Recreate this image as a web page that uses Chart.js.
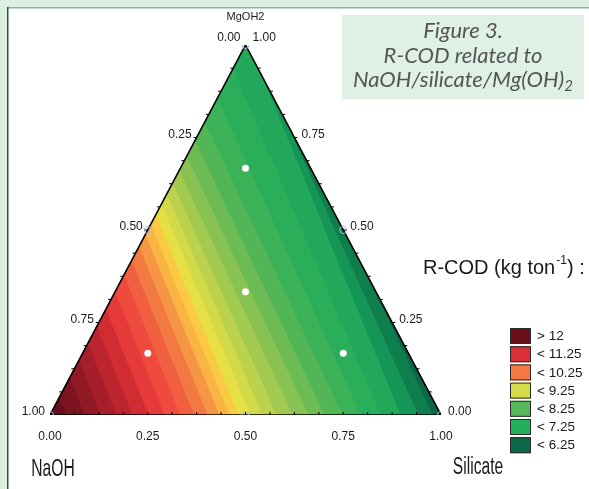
<!DOCTYPE html>
<html><head><meta charset="utf-8">
<script src="https://cdn.jsdelivr.net/npm/chart.js@4/dist/chart.umd.min.js"></script>
<style>html,body{margin:0;padding:0;background:#fff;overflow:hidden}#wrap{width:589px;height:489px;position:relative}</style>
</head><body><div id="wrap"><canvas id="c" width="589" height="489"></canvas></div>
<script>
// ---------- DATA ----------
// contour band colours, from the NaOH corner (highest R-COD) to the Silicate corner (lowest)
const bandColors = ['#6a0e1b','#7c131f','#901924','#a61e29','#bc242e','#d22c33','#e63a3a','#ee4a3e','#f06040','#f27a42','#f59644','#f9b444','#fcca42','#e6e044','#d2da48','#bcd24c','#a2ca50','#88c252','#6cbb54','#52b556','#3cb258','#2aae5a','#22a85a','#159656','#0e7e4c','#0a6846'];
// each contour line meets the bottom edge at this Silicate fraction ...
const contourBottomSil = [0.041,0.087,0.128,0.169,0.210,0.251,0.292,0.332,0.368,0.402,0.432,0.458,0.481,0.512,0.542,0.578,0.619,0.660,0.701,0.747,0.793,0.844,0.895,0.941,0.977];
// ... and the other edge at this path position (0..1 left edge NaOH corner -> MgOH2 corner, 1..2 right edge MgOH2 corner -> Silicate corner)
const contourEdgePos = [0.047,0.099,0.146,0.192,0.239,0.285,0.332,0.378,0.416,0.454,0.486,0.514,0.540,0.568,0.596,0.626,0.660,0.698,0.740,0.790,0.855,0.935,1.08,1.19,1.64];
// design points (white dots)
const designNaOH = [1/6, 1/3, 2/3, 1/6];
const designSil  = [1/6, 1/3, 1/6, 2/3];
const designMg   = [2/3, 1/3, 1/6, 1/6];
// reference points (blue rings): vertices and edge mid-points
const refNaOH = [1, 0, 0, 0.5, 0, 0.5];
const refSil  = [0, 1, 0, 0.5, 0.5, 0];
const refMg   = [0, 0, 1, 0, 0.5, 0.5];
// axis ticks
const tickValues = [0, 0.25, 0.5, 0.75, 1];
const tickLabels = ['0.00','0.25','0.50','0.75','1.00'];
const minorTickValues = [0.0625,0.125,0.1875,0.25,0.3125,0.375,0.4375,0.5,0.5625,0.625,0.6875,0.75,0.8125,0.875,0.9375];
// legend
const legendTitle = 'R-COD (kg ton';
const legendLabels = ['> 12','< 11.25','< 10.25','< 9.25','< 8.25','< 7.25','< 6.25'];
const legendColors = ['#6b1019','#d82f38','#f27a42','#d4dc48','#58b95a','#22b05c','#0b6848'];
const titleLines = ['Figure 3.', 'R-COD related to', 'NaOH/silicate/Mg(OH)'];

// ---------- helpers ----------
const tern = (naoh, sil, mg) => ({x: sil + mg / 2, y: mg});
function edgePoint(p) {
  if (p <= 1) return {x: 0.5 * p, y: p};
  const q = p - 1;
  return {x: 0.5 + 0.5 * q, y: 1 - q};
}
const datasets = [];
datasets.push({
  data: designNaOH.map((a, i) => tern(a, designSil[i], designMg[i])),
  pointRadius: 3.5, pointBackgroundColor: '#ffffff', pointBorderColor: '#ffffff', pointBorderWidth: 0, showLine: false
});
datasets.push({
  data: refNaOH.map((a, i) => tern(a, refSil[i], refMg[i])),
  pointRadius: 3.5, pointBackgroundColor: 'rgba(0,0,0,0)', pointBorderColor: '#a9b7e6', pointBorderWidth: 1, showLine: false
});
datasets.push({
  data: [tern(1,0,0), tern(0,1,0), tern(0,0,1), tern(1,0,0)],
  showLine: true, borderColor: '#000', borderWidth: 1.6, pointRadius: 0, fill: false
});
const bandCount = bandColors.length;
for (let i = 0; i < bandCount; i++) {
  const bL = i === 0 ? 0 : contourBottomSil[i - 1];
  const pL = i === 0 ? 0 : contourEdgePos[i - 1];
  const bU = i === bandCount - 1 ? 1 : contourBottomSil[i];
  const pU = i === bandCount - 1 ? 2 : contourEdgePos[i];
  const pts = [{x: bL, y: 0}, {x: bU, y: 0}, edgePoint(pU)];
  if (pL < 1 && pU > 1) pts.push({x: 0.5, y: 1});
  pts.push(edgePoint(pL));
  pts.push({x: bL, y: 0});
  datasets.push({
    data: pts, showLine: true, fill: 'shape', backgroundColor: bandColors[i],
    borderColor: bandColors[i], borderWidth: 1, pointRadius: 0, tension: 0
  });
}

const FONT = '"Liberation Sans", Arial, sans-serif';

function narrowText(ctx, txt, cx, cy, size, sxf) {
  ctx.save();
  ctx.translate(cx, cy);
  ctx.scale(sxf, 1);
  ctx.font = size + 'px ' + FONT;
  ctx.textAlign = 'center';
  ctx.textBaseline = 'middle';
  ctx.fillText(txt, 0, 0);
  ctx.restore();
}

const decor = {
  id: 'decor',
  beforeDraw(chart) {
    const ctx = chart.ctx;
    ctx.save();
    ctx.fillStyle = '#ddeee3';
    ctx.fillRect(0, 0, 589, 489);
    ctx.fillStyle = '#ffffff';
    ctx.fillRect(7, 8, 582, 481);
    ctx.fillStyle = '#86b79a';
    ctx.fillRect(7, 7, 582, 1.5);
    ctx.fillStyle = '#1f5c3e';
    ctx.fillRect(7, 7, 1.5, 482);
    ctx.fillStyle = '#dff0e5';
    ctx.fillRect(342, 15, 242, 84);
    ctx.restore();
  },
  afterDraw(chart) {
    const ctx = chart.ctx, sx = chart.scales.x, sy = chart.scales.y;
    const P = (pt) => ({x: sx.getPixelForValue(pt.x), y: sy.getPixelForValue(pt.y)});
    ctx.save();
    ctx.strokeStyle = '#000'; ctx.lineWidth = 1;
    minorTickValues.forEach(v => {
      let a = P(tern(1 - v, v, 0));
      ctx.beginPath(); ctx.moveTo(a.x, a.y); ctx.lineTo(a.x, a.y - 3); ctx.stroke();
      a = P(tern(v, 0, 1 - v));
      ctx.beginPath(); ctx.moveTo(a.x, a.y); ctx.lineTo(a.x - 3, a.y); ctx.stroke();
      a = P(tern(0, 1 - v, v));
      ctx.beginPath(); ctx.moveTo(a.x, a.y); ctx.lineTo(a.x + 3, a.y); ctx.stroke();
    });
    ctx.fillStyle = '#1a1a1a';
    ctx.font = '12px ' + FONT;
    ctx.textBaseline = 'middle';
    tickValues.forEach((v, i) => {
      let a = P(tern(1 - v, v, 0));
      ctx.textAlign = 'center';
      ctx.fillText(tickLabels[i], a.x, a.y + 22);
      a = P(tern(v, 0, 1 - v));
      ctx.textAlign = 'right';
      ctx.fillText(tickLabels[i], a.x - 5, a.y - (v === 0 ? 7 : 3));
      a = P(tern(0, 1 - v, v));
      ctx.textAlign = 'left';
      ctx.fillText(tickLabels[i], a.x + 7, a.y - (v === 1 ? 7 : 3));
    });
    ctx.textAlign = 'center';
    ctx.font = '11px ' + FONT;
    const top = P(tern(0, 0, 1));
    ctx.fillText('MgOH2', top.x, 17);
    narrowText(ctx, 'NaOH', 53, 470, 23, 0.68);
    narrowText(ctx, 'Silicate', 478, 468, 23, 0.68);
    ctx.textAlign = 'left';
    ctx.font = '20px ' + FONT;
    let x = 423;
    ctx.fillText(legendTitle, x, 268);
    x += ctx.measureText(legendTitle).width;
    ctx.font = '12px ' + FONT;
    ctx.fillText('-1', x + 1, 261);
    x += ctx.measureText('-1').width + 1;
    ctx.font = '20px ' + FONT;
    ctx.fillText(') :', x, 268);
    legendLabels.forEach((lab, i) => {
      const y = 328 + i * 18.2;
      ctx.fillStyle = legendColors[i];
      ctx.fillRect(510, y, 21, 16);
      ctx.strokeStyle = '#2a2a2a'; ctx.lineWidth = 1;
      ctx.strokeRect(510.5, y + 0.5, 20, 15);
      ctx.fillStyle = '#1a1a1a';
      ctx.font = '13.5px ' + FONT;
      ctx.fillText(lab, 537, y + 8.5);
    });
    ctx.fillStyle = '#555555';
    ctx.textAlign = 'center';
    const TF = 'italic 22px Lato, "Open Sans", sans-serif';
    const TS = 'italic 15px Lato, "Open Sans", sans-serif';
    ctx.font = TF;
    ctx.fillText(titleLines[0], 463, 31);
    ctx.fillText(titleLines[1], 463, 56);
    const w3 = ctx.measureText(titleLines[2]).width;
    ctx.font = TS;
    const ws = ctx.measureText('2').width;
    const x0 = 463 - (w3 + ws) / 2;
    ctx.textAlign = 'left';
    ctx.font = TF;
    ctx.fillText(titleLines[2], x0, 80);
    ctx.font = TS;
    ctx.fillText('2', x0 + w3, 86);
    ctx.restore();
  }
};

const chart = new Chart(document.getElementById('c'), {
  type: 'scatter',
  data: {datasets},
  options: {
    responsive: false, animation: false, devicePixelRatio: 1,
    layout: {padding: {left: 50, right: 148, top: 45, bottom: 74}},
    scales: {
      x: {type: 'linear', min: 0, max: 1, display: false},
      y: {type: 'linear', min: 0, max: 1, display: false}
    },
    plugins: {legend: {display: false}, tooltip: {enabled: false}},
    elements: {line: {tension: 0}}
  },
  plugins: [decor]
});
</script></body></html>
